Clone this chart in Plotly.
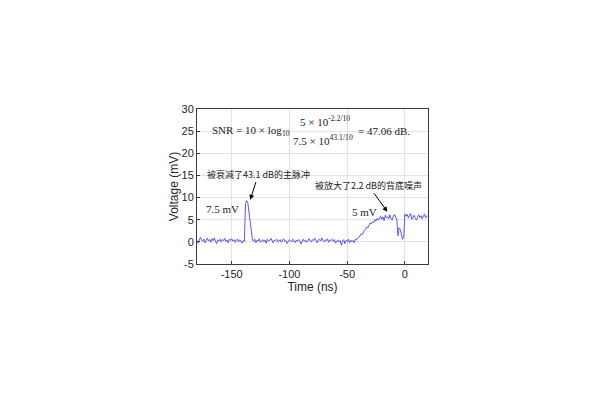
import plotly.graph_objects as go

# Sampling grid (ns) and measured voltage (mV)
time_ns = list(range(-180, 21))
voltage_mv = [
    # -180 .. -140
    0.2, -0.3, 0.5, 1.0, 0.4, 0.1, 0.6, -0.2, 0.3, 0.8,
    0.2, 0.5, -0.1, 0.7, 0.3, 0.9, 0.1, -0.4, 0.4, 0.2,
    0.6, 0.0, 0.5, 0.3, 0.8, 0.1, 0.4, -0.2, 0.6, 0.3,
    0.7, 0.2, 0.5, -0.1, 0.4, 0.6, 0.0, 0.5, 0.2, -0.3,
    0.3,
    # -139 .. -132 (main pulse)
    0.1, 8.6, 9.3, 8.8, 6.4, 4.1, 1.6, 0.5,
    # -131 .. -46 (baseline)
    0.1, 0.6, -0.2, 0.4, 0.2, 0.7, -0.1, 0.3, 0.5, 0.0,
    0.4, -0.3, 0.6, 0.2, 0.3, 0.8, 0.1, -0.2, 0.4, 0.3,
    0.6, 0.0, 0.2, 0.5, -0.1, 0.4, 0.7, 0.1, 0.3, -0.4,
    0.2, 0.5, 0.3, 0.0, 0.6, 0.2, -0.2, 0.4, 0.1, 0.5,
    0.3, -0.5, 0.2, 0.6, 0.1, 0.4, -0.1, 0.3, 0.7, 0.2,
    0.0, 0.5, 0.3, 0.8, 0.1, -0.2, 0.4, 0.6, 0.2, 0.9,
    0.3, 0.0, 0.5, 0.2, 0.7, -0.1, 0.4, 0.3, 0.6, 0.1,
    0.5, -0.3, 0.2, 0.4, 0.0, 0.3, -0.8, 0.2, 0.5, -0.4,
    0.3, 0.1, 0.6, -0.2, 0.4, 0.0,
    # -45 .. -40
    0.3, -0.2, 0.6, 0.4, 0.9, 1.0,
    # -39 .. -24 (ramp)
    1.3, 1.8, 1.6, 2.3, 2.6, 2.9, 3.4, 3.2, 3.9, 4.3,
    4.0, 4.6, 4.4, 5.0, 4.7, 5.3,
    # -23 .. -8
    4.9, 5.5, 5.8, 5.1, 5.6, 4.8, 6.0, 5.4, 5.7, 5.2,
    6.1, 5.3, 4.9, 5.8, 6.2, 5.6,
    # -7 .. 0
    5.0, 1.4, 3.2, 2.8, 1.2, 0.6, 1.0, 6.3,
    # 1 .. 20
    5.8, 6.2, 5.4, 5.9, 6.4, 5.1, 5.7, 6.0, 5.3, 4.9,
    5.6, 6.1, 5.5, 5.9, 5.2, 5.8, 6.3, 5.4, 5.7, 6.0,
]

x_ticks = [-150, -100, -50, 0]
x_tick_labels = ["-150", "-100", "-50", "0"]
y_ticks = [-5, 0, 5, 10, 15, 20, 25, 30]
y_tick_labels = ["-5", "0", "5", "10", "15", "20", "25", "30"]

fig = go.Figure()
fig.add_trace(go.Scatter(
    x=time_ns, y=voltage_mv, mode="lines",
    line=dict(color="rgb(70,70,255)", width=0.9),
    showlegend=False, hoverinfo="skip",
))

serif = "Liberation Serif, Times New Roman, serif"
cjk = "Noto Sans CJK SC"
txt = "#222222"

ann = [
    dict(x=-97.9, y=25.0, text="SNR = 10 × log<sub>10</sub>", xanchor="right", yanchor="middle",
         font=dict(family=serif, size=11, color=txt), showarrow=False),
    dict(x=-69.4, y=27.3, text="5 × 10<sup>-2.2/10</sup>", xanchor="center", yanchor="middle",
         font=dict(family=serif, size=11, color=txt), showarrow=False),
    dict(x=-71.1, y=22.9, text="7.5 × 10<sup>43.1/10</sup>", xanchor="center", yanchor="middle",
         font=dict(family=serif, size=11, color=txt), showarrow=False),
    dict(x=-42.6, y=25.0, text="= 47.06 dB.", xanchor="left", yanchor="middle",
         font=dict(family=serif, size=11, color=txt), showarrow=False),
    dict(x=-133.9, y=9.5, ax=-126.8, ay=15.3, axref="x", ayref="y",
         text="被衰减了43.1 dB的主脉冲",
         font=dict(family=cjk, size=9, color=txt),
         showarrow=True, arrowhead=2, arrowsize=1, arrowwidth=1, arrowcolor="#000000"),
    dict(x=-15.2, y=6.8, ax=-31.8, ay=12.8, axref="x", ayref="y",
         text="被放大了2.2 dB的背底噪声",
         font=dict(family=cjk, size=9, color=txt),
         showarrow=True, arrowhead=2, arrowsize=1, arrowwidth=1, arrowcolor="#000000"),
    dict(x=-157.5, y=7.35, text="7.5 mV", xanchor="center", yanchor="middle",
         font=dict(family=serif, size=11, color=txt), showarrow=False),
    dict(x=-35.0, y=6.8, text="5 mV", xanchor="center", yanchor="middle",
         font=dict(family=serif, size=11, color=txt), showarrow=False),
]

axis_common = dict(
    showgrid=True, gridcolor="#e3e3e3", gridwidth=1,
    showline=True, linecolor="#3a3a3a", linewidth=1, mirror=True,
    ticks="inside", ticklen=3, tickcolor="#3a3a3a",
    tickfont=dict(family="Liberation Sans, Arial, sans-serif", size=11, color="#262626"),
    zeroline=False,
)

fig.update_layout(
    width=600, height=400,
    margin=dict(l=189, r=180, t=101, b=144),
    paper_bgcolor="white", plot_bgcolor="white",
    annotations=ann,
    xaxis=dict(range=[-180, 20], tickvals=x_ticks, ticktext=x_tick_labels,
               title=dict(text="Time (ns)", standoff=2,
                          font=dict(family="Liberation Sans, Arial, sans-serif", size=12, color="#262626")),
               **axis_common),
    yaxis=dict(range=[-5, 30], tickvals=y_ticks, ticktext=y_tick_labels,
               title=dict(text="Voltage (mV)", standoff=0,
                          font=dict(family="Liberation Sans, Arial, sans-serif", size=12, color="#262626")),
               **axis_common),
)

fig.write_html("out.html")
